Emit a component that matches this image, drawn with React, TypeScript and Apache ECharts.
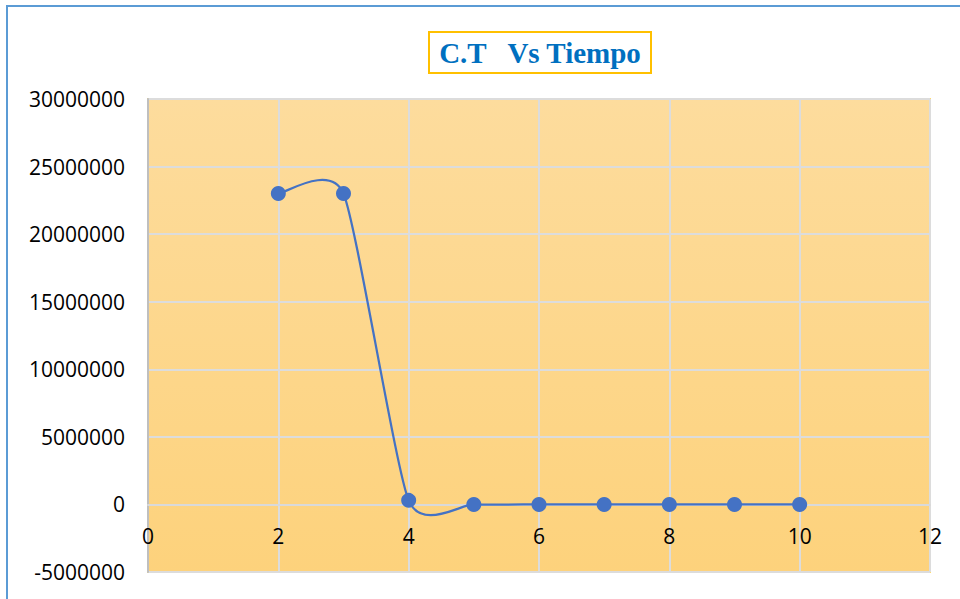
import React, { useEffect, useRef } from "react";
import * as echarts from "echarts";

const titleText = "C.T   Vs Tiempo";
const tiempo = [2, 3, 4, 5, 6, 7, 8, 9, 10];
const ct = [23000000, 23000000, 300000, 0, 0, 0, 0, 0, 0];
const xMin = 0, xMax = 12, xStep = 2;
const yMin = -5000000, yMax = 30000000, yStep = 5000000;

const SMOOTH = 0.1;

export default function App() {
  const ref = useRef<HTMLDivElement>(null);
  useEffect(() => {
    if (!ref.current) return;
    const chart = echarts.init(ref.current, null, { renderer: "svg" });
    const font = "'Open Sans', 'Liberation Sans', sans-serif";
    const gridTop = 99;
    const gridHeight = 473;
    const zeroOffset = (gridHeight * (0 - yMin)) / (yMax - yMin);
    const segments = tiempo.slice(0, -1).map((_, i) => [i]);

    chart.setOption({
      animation: false,
      backgroundColor: "#ffffff",
      graphic: [
        {
          type: "rect",
          shape: { x: 7, y: 6, width: 1000, height: 1000 },
          style: { fill: "none", stroke: "#5B9BD5", lineWidth: 2 },
          z: 100,
        },
        {
          type: "rect",
          shape: { x: 429, y: 32, width: 222, height: 41 },
          style: { fill: "#ffffff", stroke: "#FFC000", lineWidth: 2 },
          z: 100,
        },
        {
          type: "text",
          x: 540,
          y: 53,
          style: {
            text: titleText,
            fill: "#0070C0",
            font: "bold 29px 'Liberation Serif', 'Times New Roman', serif",
            align: "center",
            verticalAlign: "middle",
          },
          z: 101,
        },
      ],
      grid: {
        left: 148,
        top: gridTop,
        width: 782,
        height: gridHeight,
        outerBoundsMode: "none",
        containLabel: false,
        show: true,
        borderColor: "#FFC000",
        borderWidth: 1.5,
        backgroundColor: new echarts.graphic.LinearGradient(0, 0, 0, 1, [
          { offset: 0, color: "#FDDC9D" },
          { offset: 1, color: "#FDD27C" },
        ]),
      },
      xAxis: {
        type: "value",
        min: xMin,
        max: xMax,
        interval: xStep,
        position: "bottom",
        offset: -zeroOffset,
        axisLine: { show: true, onZero: false, lineStyle: { color: "#D9D9D9", width: 2 } },
        axisTick: { show: false },
        axisLabel: {
          color: "#000000",
          fontSize: 21,
          fontFamily: font,
          margin: 21,
          formatter: (v: number) => String(v),
        },
        splitLine: { show: true, lineStyle: { color: "#DCDCDC", width: 2 } },
      },
      yAxis: {
        type: "value",
        min: yMin,
        max: yMax,
        interval: yStep,
        axisLine: { show: true, onZero: false, lineStyle: { color: "#BFBFBF", width: 2 } },
        axisTick: { show: false },
        axisLabel: {
          color: "#000000",
          fontSize: 21,
          fontFamily: font,
          margin: 23,
          formatter: (v: number) => String(v),
        },
        splitLine: { show: true, lineStyle: { color: "#DCDCDC", width: 2 } },
      },
      series: [
        {
          type: "custom",
          coordinateSystem: "cartesian2d",
          data: segments,
          clip: false,
          z: 5,
          renderItem: (params: any, api: any) => {
            const i = api.value(0) as number;
            const n = tiempo.length;
            const P = (k: number) => {
              const kk = Math.max(0, Math.min(n - 1, k));
              return api.coord([tiempo[kk], ct[kk]]);
            };
            const p0 = P(i - 1);
            const p1 = P(i);
            const p2 = P(i + 1);
            const p3 = P(i + 2);
            return {
              type: "bezierCurve",
              shape: {
                x1: p1[0],
                y1: p1[1],
                x2: p2[0],
                y2: p2[1],
                cpx1: p1[0] + (p2[0] - p0[0]) * SMOOTH,
                cpy1: p1[1] + (p2[1] - p0[1]) * SMOOTH,
                cpx2: p2[0] - (p3[0] - p1[0]) * SMOOTH,
                cpy2: p2[1] - (p3[1] - p1[1]) * SMOOTH,
              },
              style: { stroke: "#4472C4", fill: "none", lineWidth: 2.25 },
            };
          },
        },
        {
          type: "scatter",
          data: tiempo.map((t, i) => [t, ct[i]]),
          symbol: "circle",
          symbolSize: 15,
          itemStyle: { color: "#4472C4", opacity: 1 },
          z: 10,
        },
      ],
    });
    return () => chart.dispose();
  }, []);
  return (
    <div
      ref={ref}
      style={{ position: "fixed", left: 0, top: 0, width: 960, height: 599 }}
    />
  );
}
